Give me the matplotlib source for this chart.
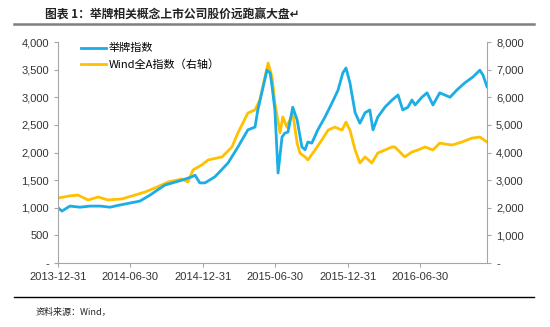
import numpy as np
import pandas as pd
import matplotlib
matplotlib.use("Agg")
import matplotlib.pyplot as plt
from matplotlib.ticker import FuncFormatter

plt.rcParams['font.family'] = ['Liberation Sans', 'Noto Sans CJK SC', 'DejaVu Sans']

# 举牌指数 (left axis)
jp_dates = ["2013-12-31", "2014-01-10", "2014-01-30", "2014-02-24", "2014-03-22", "2014-04-16",
            "2014-05-11", "2014-06-05", "2014-06-30", "2014-07-25", "2014-08-20", "2014-09-01",
            "2014-09-26", "2014-11-08", "2014-12-03", "2014-12-11", "2014-12-23", "2015-01-05",
            "2015-01-30", "2015-03-04", "2015-03-29", "2015-04-23", "2015-05-11", "2015-05-18",
            "2015-05-28", "2015-06-10", "2015-06-18", "2015-06-23", "2015-06-30", "2015-07-08",
            "2015-07-18", "2015-07-25", "2015-08-02", "2015-08-14", "2015-08-25", "2015-09-06",
            "2015-09-14", "2015-09-21", "2015-10-01", "2015-10-16", "2015-11-03", "2015-11-21",
            "2015-12-06", "2015-12-18", "2015-12-26", "2016-01-05", "2016-01-18", "2016-01-30",
            "2016-02-12", "2016-02-24", "2016-03-03", "2016-03-15", "2016-04-02", "2016-04-20",
            "2016-05-05", "2016-05-17", "2016-05-30", "2016-06-09", "2016-06-17", "2016-07-04",
            "2016-07-17", "2016-08-01", "2016-08-18", "2016-09-13", "2016-09-30", "2016-10-20",
            "2016-11-10", "2016-11-27", "2016-12-05", "2016-12-15"]
jp_vals = [1000, 940, 1030, 1010, 1030, 1030,
           1010, 1050, 1085, 1120, 1230, 1290,
           1410, 1500, 1560, 1590, 1450, 1450,
           1560, 1810, 2100, 2410, 2460, 2770,
           3080, 3490, 3440, 3190, 2770, 1630,
           2280, 2350, 2370, 2820, 2590, 2100,
           2050, 2190, 2170, 2410, 2640, 2900,
           3130, 3440, 3530, 3260, 2720, 2530,
           2720, 2770, 2410, 2640, 2820, 2950,
           3040, 2770, 2820, 2950, 2860, 3000,
           3080, 2860, 3080, 3000, 3130, 3260,
           3370, 3490, 3400, 3190]

# Wind全A指数 (right axis)
wa_dates = ["2013-12-31", "2014-01-30", "2014-02-19", "2014-03-17", "2014-04-11", "2014-05-06",
            "2014-06-10", "2014-07-13", "2014-08-07", "2014-09-01", "2014-10-04", "2014-11-08",
            "2014-11-23", "2014-12-06", "2014-12-28", "2015-01-13", "2015-02-17", "2015-03-14",
            "2015-03-29", "2015-04-23", "2015-05-11", "2015-05-23", "2015-06-05", "2015-06-13",
            "2015-06-23", "2015-06-30", "2015-07-13", "2015-07-20", "2015-07-30", "2015-08-14",
            "2015-08-25", "2015-09-01", "2015-09-14", "2015-09-21", "2015-10-09", "2015-10-26",
            "2015-11-11", "2015-11-28", "2015-12-16", "2015-12-26", "2016-01-05", "2016-01-18",
            "2016-01-30", "2016-02-12", "2016-02-29", "2016-03-15", "2016-04-02", "2016-04-20",
            "2016-04-27", "2016-05-22", "2016-06-09", "2016-06-24", "2016-07-12", "2016-08-01",
            "2016-08-18", "2016-09-18", "2016-10-13", "2016-11-07", "2016-11-27", "2016-12-15"]
wa_vals = [2350, 2430, 2460, 2280, 2390, 2280,
           2320, 2460, 2570, 2715, 2930, 3040,
           2930, 3370, 3550, 3730, 3840, 4200,
           4710, 5430, 5540, 5900, 6730, 7240,
           6730, 5790, 4710, 5290, 4920, 5430,
           4340, 3980, 3840, 3730, 4090, 4450,
           4810, 4920, 4810, 5100, 4810, 4090,
           3620, 3840, 3620, 3980, 4090, 4200,
           4200, 3840, 4020, 4090, 4200, 4090,
           4340, 4270, 4380, 4520, 4560, 4380]

xtick_dates = ["2013-12-31", "2014-06-30", "2014-12-31", "2015-06-30", "2015-12-31", "2016-06-30"]

blue = "#1AADE6"
gold = "#FFC000"
axis_gray = "#A6A6A6"

fig = plt.figure(figsize=(5.5, 3.27), dpi=100)
ax = fig.add_axes([58 / 550, 1 - 263 / 327, 429 / 550, 221 / 327])
ax2 = ax.twinx()

l1, = ax.plot(pd.to_datetime(jp_dates), jp_vals, color=blue, lw=2.0, label="举牌指数")
l2, = ax2.plot(pd.to_datetime(wa_dates), wa_vals, color=gold, lw=2.0, label="Wind全A指数（右轴）")
ax.set_zorder(ax2.get_zorder() + 1)
ax.patch.set_visible(False)

ax.set_xlim(pd.Timestamp("2013-12-31"), pd.Timestamp("2016-12-15"))
ax.set_ylim(0, 4000)
ax2.set_ylim(0, 8000)
ax.set_yticks(np.arange(0, 4001, 500))
ax2.set_yticks(np.arange(0, 8001, 1000))
ax.set_xticks(pd.to_datetime(xtick_dates))
ax.set_xticklabels(xtick_dates)

fmt = FuncFormatter(lambda v, p: "-" if v == 0 else f"{v:,.0f}")
ax.yaxis.set_major_formatter(fmt)
ax2.yaxis.set_major_formatter(fmt)

for a in (ax, ax2):
    for s in a.spines.values():
        s.set_color(axis_gray)
    a.spines["top"].set_visible(False)
    a.tick_params(colors=axis_gray, labelcolor="#333333", labelsize=8, length=3, width=0.8)
ax.spines["right"].set_visible(False)
ax2.spines["left"].set_visible(False)
ax2.spines["bottom"].set_visible(False)

leg = ax.legend([l1, l2], [l1.get_label(), l2.get_label()], loc="upper left",
                bbox_to_anchor=(0.03, 1.04), frameon=False,
                handlelength=2.3, handletextpad=0.2, labelspacing=0.5,
                prop={'family': ['Noto Sans CJK SC', 'DejaVu Sans'], 'size': 8})

# title and source lines
fig.text(45 / 550, 1 - 15 / 327, "图表 1：举牌相关概念上市公司股价远跑赢大盘↵", fontsize=8.5,
         fontweight="bold", va="center", ha="left", color="#222222",
         family=['Noto Sans CJK SC', 'DejaVu Sans'])
fig.add_artist(plt.Line2D([14 / 550, 534 / 550], [1 - 24 / 327, 1 - 24 / 327],
                          color="#7F7F7F", lw=1.8))
fig.add_artist(plt.Line2D([14 / 550, 534 / 550], [1 - 297 / 327, 1 - 297 / 327],
                          color="black", lw=1.0))
fig.text(36 / 550, 1 - 312 / 327, "资料来源：Wind，", fontsize=6.5, style="italic",
         va="center", ha="left", color="#222222",
         family=['Noto Sans CJK SC', 'DejaVu Sans'])

fig.savefig("out.png", dpi=100)
